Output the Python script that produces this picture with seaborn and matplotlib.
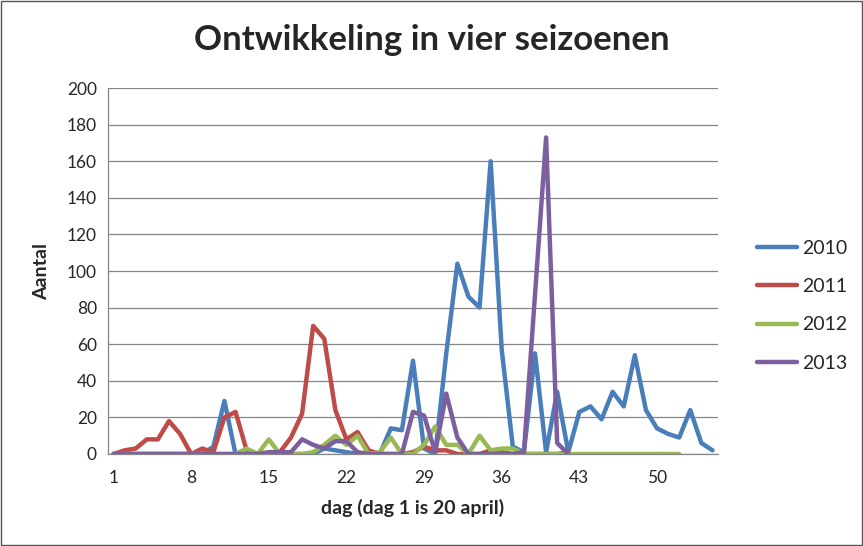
import pandas as pd
import seaborn as sns
import matplotlib.pyplot as plt
from matplotlib.patches import Rectangle
from matplotlib.ticker import MultipleLocator

# values, day 1 = 20 april
y2010 = [0, 0, 0, 0, 0, 0, 0, 0, 0, 4, 29, 0, 0, 0, 0, 0, 0, 0, 0, 3,
         2, 1, 0, 0, 0, 14, 13, 51, 3, 0, 55, 104, 86, 80, 160, 57, 4, 1, 55, 1,
         34, 1, 23, 26, 19, 34, 26, 54, 24, 14, 11, 9, 24, 6, 2]
y2011 = [0, 2, 3, 8, 8, 18, 11, 0, 3, 1, 20, 23, 2, 0, 0, 1, 9, 22, 70, 63,
         24, 8, 12, 2, 0, 0, 0, 1, 4, 2, 2, 0, 0, 0, 2, 1, 0, 0, 0, 0,
         0, 1]
y2012 = [0, 0, 0, 0, 0, 0, 0, 0, 0, 0, 0, 0, 3, 0, 8, 0, 0, 0, 1, 5,
         10, 5, 10, 0, 1, 9, 0, 0, 5, 15, 5, 5, 0, 10, 2, 3, 3, 0, 0, 0,
         0, 0, 0, 0, 0, 0, 0, 0, 0, 0, 0, 0]
y2013 = [0, 0, 0, 0, 0, 0, 0, 0, 0, 0, 0, 0, 0, 0, 1, 1, 1, 8, 5, 3,
         7, 7, 1, 0, 0, 0, 0, 23, 21, 1, 33, 9, 0, 0, 0, 0, 0, 1, 87, 173,
         6, 0]

series = {"2010": y2010, "2011": y2011, "2012": y2012, "2013": y2013}
colors = {"2010": "#4A7EBB", "2011": "#BE4B48", "2012": "#98B954", "2013": "#7D5FA0"}
xtick_days = [1, 8, 15, 22, 29, 36, 43, 50]

frames = []
for year, vals in series.items():
    frames.append(pd.DataFrame({"dag": range(1, len(vals) + 1), "aantal": vals, "jaar": year}))
df = pd.concat(frames, ignore_index=True)

sns.set_style("white")
plt.rcParams["font.family"] = ["Lato", "DejaVu Sans"]

fig = plt.figure(figsize=(8.63, 5.46), dpi=100)
ax = fig.add_axes([0.1251, 0.1685, 0.832 - 0.1251, 0.8388 - 0.1685])

sns.lineplot(data=df, x="dag", y="aantal", hue="jaar", palette=colors,
             linewidth=3.2, ax=ax, legend=True)

ax.set_xlim(0.5, 55.5)
ax.set_ylim(0, 200)
ax.yaxis.set_major_locator(MultipleLocator(20))
ax.set_xticks(xtick_days)
ax.set_xticklabels([str(d) for d in xtick_days])
ax.xaxis.set_minor_locator(MultipleLocator(1, offset=0.5))
ax.tick_params(axis="x", which="major", length=0, labelsize=12.5, pad=11.5)
ax.tick_params(axis="x", which="minor", length=5, color="#868686", direction="out")
ax.tick_params(axis="y", which="major", length=5, color="#868686", labelsize=12.5, pad=3)
ax.grid(axis="y", color="#868686", linewidth=0.9)
ax.set_axisbelow(True)
for side in ["top", "right"]:
    ax.spines[side].set_visible(False)
for side in ["left", "bottom"]:
    ax.spines[side].set_color("#868686")
    ax.spines[side].set_linewidth(0.9)

ax.set_xlabel("dag (dag 1 is 20 april)", fontsize=14, fontweight="bold", labelpad=9)
ax.set_ylabel("Aantal", fontsize=14, fontweight="bold", labelpad=12)
fig.text(0.5, 0.927, "Ontwikkeling in vier seizoenen", fontsize=25, fontweight="bold",
         ha="center", va="center")

leg = ax.legend(loc="center left", bbox_to_anchor=(1.035, 0.405), frameon=False,
                fontsize=14, handlelength=2.05, handletextpad=0.3, labelspacing=1.1)
for line in leg.get_lines():
    line.set_linewidth(3.2)

fig.patches.append(Rectangle((0.001, 0.001), 0.998, 0.998, transform=fig.transFigure,
                             fill=False, edgecolor="#555555", linewidth=1))

plt.savefig("out.png", dpi=100)
